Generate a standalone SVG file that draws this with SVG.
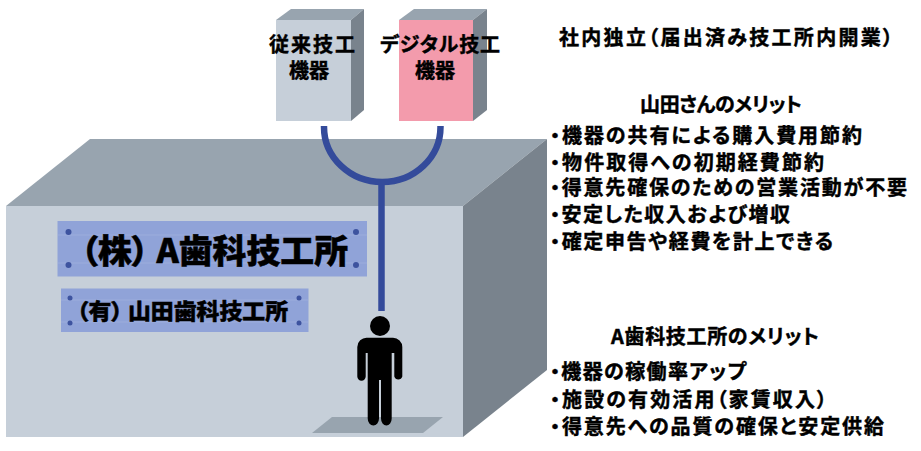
<svg xmlns="http://www.w3.org/2000/svg" width="921" height="451" viewBox="0 0 921 451">
<style>
text{font-family:"Noto Sans CJK JP","Noto Sans CJK SC",sans-serif;font-weight:700;fill:#000;stroke:#000;stroke-width:.45;font-feature-settings:"palt"}
.front{fill:#c6cfd9}.top{fill:#98a4af}.side{fill:#79838d}
.conn{fill:none;stroke:#344b9b;stroke-width:6.5}
.sign{fill:#90a3d8}.dot{fill:#3d539f}.rule{stroke:#a3b3df;stroke-width:.7}
.t20{font-size:20px}.s{text-anchor:middle}
.h{font-weight:900;stroke-width:.5}
</style>
<rect width="921" height="451" fill="#fff"/>
<g id="building">
<polygon class="top" points="6,206 90,139 547,139 463,206"/>
<polygon class="side" points="463,206 547,139 547,370 463,437"/>
<rect class="front" x="6" y="206" width="457" height="231"/>
<polygon class="top" points="312,433 332,417 443,417 423,433"/>
</g>
<g id="device-conventional">
<polygon class="top" points="276,20 291,9 364,9 351,20"/>
<polygon class="side" points="351,20 364,9 364,110 351,121"/>
<rect class="front" x="276" y="20" width="75" height="101"/>
<text class="t20 s" x="312" y="52" textLength="86" lengthAdjust="spacing">従来技工</text>
<text class="t20 s" x="309" y="78">機器</text>
</g>
<g id="device-digital">
<polygon class="top" points="399,20 414,9 487,9 473,20"/>
<polygon class="side" points="473,20 487,9 487,110 473,121"/>
<rect x="399" y="20" width="74" height="101" fill="#f39bac"/>
<text class="t20 s" x="440" y="52" textLength="120" lengthAdjust="spacing">デジタル技工</text>
<text class="t20 s" x="435" y="78">機器</text>
</g>
<g id="connectors">
<path class="conn" d="M324 126V127A58.200 55 0 0 0 440.500 127V126"/>
<path class="conn" d="M381.500 182V311"/>
</g>
<g id="sign-a">
<rect class="sign" x="57.500" y="221" width="309.500" height="55.500"/>
<path class="rule" d="M58 235H367M58 263H367"/>
<circle class="dot" cx="68.500" cy="232" r="3"/><circle class="dot" cx="356" cy="232" r="3"/>
<circle class="dot" cx="68.500" cy="265" r="3"/><circle class="dot" cx="356" cy="265" r="3"/>
<text class="h" x="81" y="263" font-size="33" textLength="267" lengthAdjust="spacingAndGlyphs">（株） A歯科技工所</text>
</g>
<g id="sign-yamada">
<rect class="sign" x="61" y="288.500" width="247.500" height="43.500"/>
<path class="rule" d="M61 300H308M61 322H308"/>
<circle class="dot" cx="70" cy="298" r="2.500"/><circle class="dot" cx="299" cy="298" r="2.500"/>
<circle class="dot" cx="70" cy="323" r="2.500"/><circle class="dot" cx="299" cy="323" r="2.500"/>
<text x="77" y="319" font-size="21.500" textLength="211" lengthAdjust="spacingAndGlyphs" style="font-weight:900">（有） 山田歯科技工所</text>
</g>
<g id="person" fill="#000">
<circle cx="380" cy="326" r="10"/>
<path d="M367 337.700H393A9.300 9.300 0 0 1 402.300 347V376.500A4.200 4.200 0 0 1 394.300 376.500V353H391.700V418.500A5.300 7 0 0 1 381 418.500V380H379V418.500A5.600 7 0 0 1 367.700 418.500V353H365.700V376.500A4.200 4.200 0 0 1 357.300 376.500V347A9.300 9.300 0 0 1 367 337.700Z"/>
</g>
<g id="note-independent"><text class="t20" x="559" y="45" textLength="334" lengthAdjust="spacing">社内独立（届出済み技工所内開業）</text></g>
<g id="note-yamada">
<text class="t20 s" x="721" y="112" textLength="162" lengthAdjust="spacing">山田さんのメリット</text>
<text class="t20" x="550" y="143" textLength="312" lengthAdjust="spacing">・機器の共有による購入費用節約</text>
<text class="t20" x="550" y="170" textLength="274" lengthAdjust="spacing">・物件取得への初期経費節約</text>
<text class="t20" x="550" y="195" textLength="357" lengthAdjust="spacing">・得意先確保のための営業活動が不要</text>
<text class="t20" x="550" y="222" textLength="240" lengthAdjust="spacing">・安定した収入および増収</text>
<text class="t20" x="550" y="249" textLength="283" lengthAdjust="spacing">・確定申告や経費を計上できる</text>
</g>
<g id="note-a">
<text class="t20 s" x="715" y="344" textLength="208" lengthAdjust="spacing">A歯科技工所のメリット</text>
<text class="t20" x="550" y="379" textLength="196" lengthAdjust="spacing">・機器の稼働率アップ</text>
<text class="t20" x="550" y="407" textLength="277" lengthAdjust="spacing">・施設の有効活用（家賃収入）</text>
<text class="t20" x="550" y="434" textLength="334" lengthAdjust="spacing">・得意先への品質の確保と安定供給</text>
</g>
</svg>
